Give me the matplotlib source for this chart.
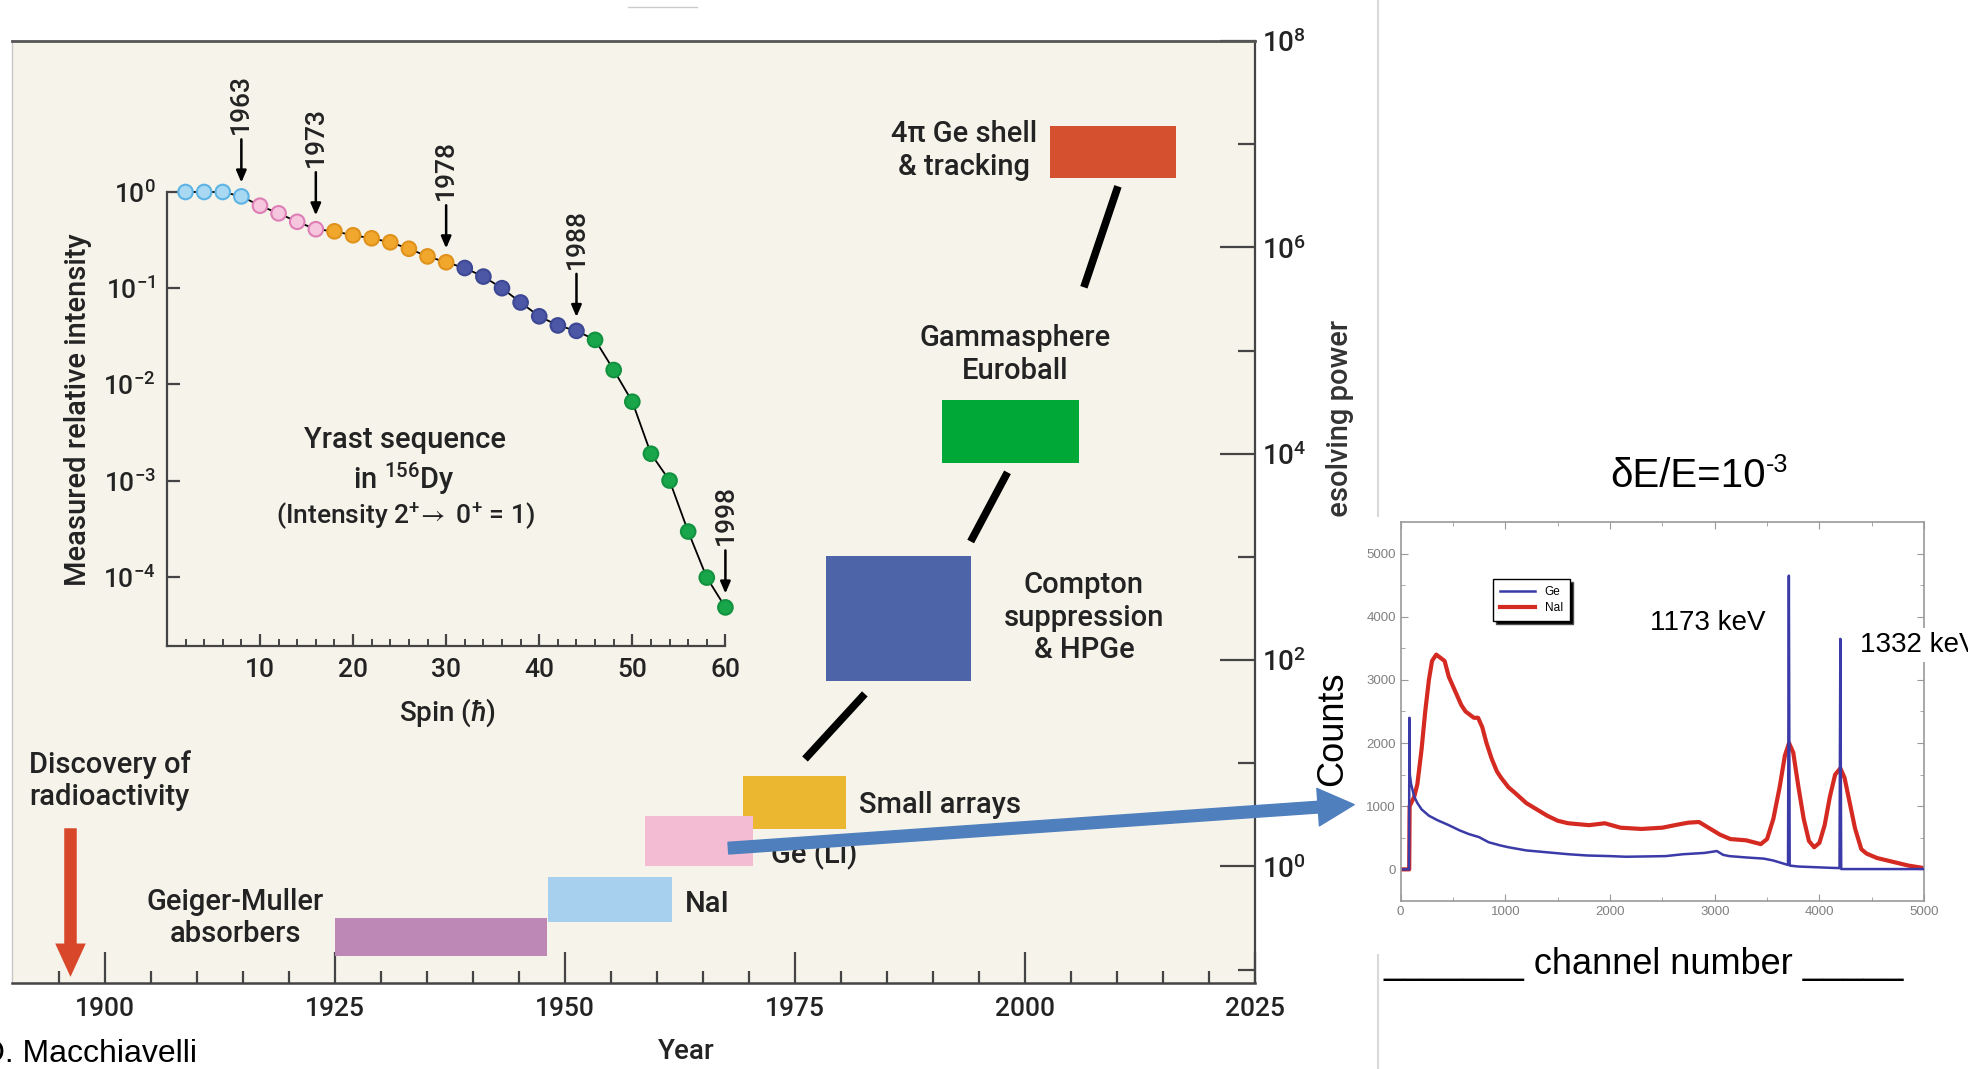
import matplotlib
matplotlib.use("Agg")
import matplotlib.pyplot as plt
from matplotlib.ticker import FixedLocator, NullLocator, NullFormatter, LogFormatterMathtext
from matplotlib.patches import Rectangle, FancyArrowPatch
from matplotlib.lines import Line2D

plt.rcParams['font.family'] = ['Roboto', 'DejaVu Sans']
plt.rcParams['font.weight'] = 'medium'
plt.rcParams['mathtext.fontset'] = 'custom'
plt.rcParams['mathtext.rm'] = 'Roboto'
plt.rcParams['mathtext.it'] = 'Roboto:italic'
plt.rcParams['mathtext.bf'] = 'Roboto:bold'
plt.rcParams['mathtext.fallback'] = 'stixsans'

# yrast sequence of 156Dy (inset)
spin = [2, 4, 6, 8, 10, 12, 14, 16, 18, 20, 22, 24, 26, 28, 30,
        32, 34, 36, 38, 40, 42, 44, 46, 48, 50, 52, 54, 56, 58, 60]
intensity = [1.0, 1.0, 1.0, 0.90, 0.72, 0.60, 0.49, 0.41, 0.39, 0.355, 0.33, 0.30, 0.257, 0.214, 0.186,
             0.162, 0.132, 0.10, 0.071, 0.051, 0.041, 0.036, 0.029, 0.0141, 0.0066, 0.0019, 0.0010,
             0.000295, 0.000098, 0.000048]
group_last_spin = [8, 16, 30, 44, 60]
group_face = ['#a9d9f2', '#f6c5de', '#f0a72c', '#4c58a6', '#19a64b']
group_edge = ['#5cb3e4', '#de7eb6', '#e0921c', '#3d4894', '#12923f']
arrow_spin = [8, 16, 30, 44, 60]
arrow_year = ['1963', '1973', '1978', '1988', '1998']

# detector generations: year span and resolving power span
det_name = ['Geiger-Muller', 'NaI', 'Small arrays', 'Ge(Li)', 'Compton', 'Gammasphere', '4pi shell']
det_start = [1925.0, 1948.2, 1969.4, 1958.7, 1978.4, 1991.0, 2002.7]
det_end = [1948.1, 1961.6, 1980.6, 1970.5, 1994.1, 2005.9, 2016.4]
det_low = [0.135, 0.288, 2.3, 1.0, 62, 8100, 4.7e6]
det_high = [0.316, 0.79, 7.6, 3.1, 1020, 33000, 1.5e7]
det_color = ['#be88b6', '#a6d0ee', '#ecb730', '#f4bcd3', '#4e64a8', '#00a838', '#d5502f']
link_year = [(1976.1, 1982.6), (1994.1, 1998.1), (2006.4, 2010.1)]
link_power = [(11.0, 47.0), (1410, 6600), (4.1e5, 3.9e6)]
discovery_year = 1896.3

# 60Co spectrum, Ge vs NaI
ge_ch = [25, 80, 84, 88, 100, 130, 160, 200, 270, 350, 460, 560, 650, 750, 840, 950, 1030, 1200, 1400,
         1600, 1780, 2000, 2150, 2350, 2530, 2700, 2900, 3020, 3080, 3140, 3290, 3470, 3560, 3640, 3700,
         3708, 3716, 3800, 3950, 4100, 4192, 4200, 4208, 4400, 4700, 5000]
ge_cnt = [0, 0, 2400, 1500, 1350, 1150, 1050, 950, 850, 780, 700, 620, 560, 510, 430, 380, 350, 300, 270,
          240, 220, 210, 200, 205, 210, 240, 260, 290, 230, 210, 190, 170, 140, 100, 70,
          4650, 60, 45, 35, 25, 20, 3650, 5, 5, 5, 5]
nai_ch = [25, 82, 86, 100, 130, 160, 200, 235, 270, 300, 340, 380, 420, 460, 500, 540, 580, 620, 660, 700,
          740, 780, 820, 870, 920, 960, 1030, 1100, 1200, 1300, 1400, 1500, 1600, 1800, 1950, 2100, 2300,
          2500, 2650, 2750, 2850, 2950, 3050, 3150, 3300, 3440, 3500, 3560, 3620, 3670, 3710, 3750, 3800,
          3850, 3900, 3950, 4000, 4050, 4100, 4150, 4200, 4240, 4290, 4340, 4400, 4450, 4550, 4700, 4850, 5000]
nai_cnt = [0, 0, 1000, 1050, 1150, 1350, 1900, 2500, 3000, 3300, 3400, 3350, 3300, 3050, 2900, 2750, 2600,
           2500, 2450, 2400, 2400, 2250, 2000, 1750, 1550, 1450, 1300, 1200, 1050, 950, 850, 770, 730, 700,
           730, 660, 640, 660, 710, 740, 750, 650, 550, 480, 460, 400, 480, 800, 1300, 1800, 2000, 1850,
           1300, 800, 450, 350, 420, 700, 1150, 1500, 1600, 1450, 1050, 650, 320, 250, 180, 120, 60, 20]

fig = plt.figure(figsize=(19.68, 10.69), dpi=100)
txt = '#232323'

# main chart
ax = fig.add_axes([0.00635, 0.0804, 0.6314, 0.8813])
ax.set_facecolor('#f5f3ea')
ax.set_xlim(1890, 2025)
ax.set_yscale('log')
ax.set_ylim(10 ** -1.13, 1e8)
ax.yaxis.tick_right()
ax.yaxis.set_major_locator(FixedLocator([1, 1e2, 1e4, 1e6, 1e8]))
ax.yaxis.set_minor_locator(FixedLocator([1e-1, 1e1, 1e3, 1e5, 1e7]))
ax.yaxis.set_major_formatter(LogFormatterMathtext())
ax.yaxis.set_minor_formatter(NullFormatter())
ax.xaxis.set_major_locator(FixedLocator(list(range(1900, 2026, 25))))
ax.xaxis.set_minor_locator(FixedLocator([y for y in range(1895, 2025, 5) if y % 25]))
ax.tick_params(axis='y', which='major', direction='in', length=25, width=1.6, color='#444',
               labelsize=20, labelcolor=txt, pad=5, right=True, left=False)
ax.tick_params(axis='y', which='minor', direction='in', length=12, width=1.6, color='#444', right=True, left=False)
ax.tick_params(axis='x', which='major', direction='in', length=22, width=1.6, color='#444', labelsize=19,
               labelcolor=txt, pad=10)
ax.tick_params(axis='x', which='minor', direction='in', length=9, width=1.6, color='#444')
ax.spines['top'].set_color('#555')
ax.spines['top'].set_linewidth(2)
ax.spines['left'].set_color('#c8c8c8')
ax.spines['left'].set_linewidth(1)
ax.spines['right'].set_color('#444')
ax.spines['right'].set_linewidth(1.6)
ax.spines['bottom'].set_color('#444')
ax.spines['bottom'].set_linewidth(1.8)

widths = [e - s for s, e in zip(det_start, det_end)]
heights = [h - l for l, h in zip(det_low, det_high)]
ax.bar(det_start, heights, width=widths, bottom=det_low, align='edge', color=det_color, zorder=2)
for yrs, pw in zip(link_year, link_power):
    ax.plot(yrs, pw, color='k', lw=5.5, solid_capstyle='butt', zorder=2)

ax.annotate('', xy=(discovery_year, 10 ** -1.07), xytext=(discovery_year, 10 ** 0.37),
            arrowprops=dict(arrowstyle='simple,head_length=1.2,head_width=1.1,tail_width=0.45',
                            mutation_scale=20, fc='#d9472b', ec='none', shrinkA=0, shrinkB=0))

fs = 21
ax.text(1891.8, 10 ** 0.83, 'Discovery of\nradioactivity', ha='left', va='center', fontsize=fs,
        linespacing=1.2, color=txt)
ax.text(1914.2, 10 ** -0.5, 'Geiger-Muller\nabsorbers', ha='center', va='center', fontsize=fs,
        linespacing=1.2, color=txt)
ax.text(1963.0, 10 ** -0.366, 'NaI', ha='left', va='center', fontsize=fs, color=txt)
ax.text(1972.4, 10 ** 0.11, 'Ge (Li)', ha='left', va='center', fontsize=fs, color=txt)
ax.text(1982.0, 10 ** 0.6, 'Small arrays', ha='left', va='center', fontsize=fs, color=txt)
ax.text(2006.4, 10 ** 2.41, 'Compton\nsuppression\n& HPGe', ha='center', va='center', fontsize=fs,
        linespacing=1.2, color=txt)
ax.text(1998.9, 10 ** 4.96, 'Gammasphere\nEuroball', ha='center', va='center', fontsize=fs,
        linespacing=1.2, color=txt)
ax.text(1993.4, 10 ** 6.94, '4π Ge shell\n& tracking', ha='center', va='center', fontsize=fs,
        linespacing=1.2, color=txt)

# inset
ax_in = fig.add_axes([0.0848, 0.3957, 0.2838, 0.4247])
ax_in.patch.set_alpha(0)
ax_in.spines['top'].set_visible(False)
ax_in.spines['right'].set_visible(False)
for s in ['left', 'bottom']:
    ax_in.spines[s].set_color('#444')
    ax_in.spines[s].set_linewidth(1.6)
ax_in.set_yscale('log')
ax_in.set_ylim(10 ** -4.72, 1)
ax_in.set_xlim(0, 60)
ax_in.yaxis.set_major_locator(FixedLocator([1e-4, 1e-3, 1e-2, 1e-1, 1]))
ax_in.yaxis.set_minor_locator(NullLocator())
ax_in.yaxis.set_major_formatter(LogFormatterMathtext())
ax_in.xaxis.set_major_locator(FixedLocator([10, 20, 30, 40, 50, 60]))
ax_in.xaxis.set_minor_locator(FixedLocator([s for s in range(2, 60, 2) if s % 10]))
ax_in.tick_params(axis='y', direction='in', length=9, width=1.6, color='#444', labelsize=19,
                  labelcolor=txt, pad=8)
ax_in.tick_params(axis='x', which='major', direction='in', length=9, width=1.6, color='#444', labelsize=19,
                  labelcolor=txt, pad=9)
ax_in.tick_params(axis='x', which='minor', direction='in', length=5, width=1.4, color='#444')

face, edge = [], []
for s in spin:
    g = next(i for i, last in enumerate(group_last_spin) if s <= last)
    face.append(group_face[g])
    edge.append(group_edge[g])
ax_in.plot(spin, intensity, color='k', lw=1.3, zorder=2, clip_on=False)
ax_in.scatter(spin, intensity, s=110, c=face, edgecolors=edge, linewidths=1.5, zorder=3, clip_on=False)

for s, yr in zip(arrow_spin, arrow_year):
    v = intensity[spin.index(s)]
    ax_in.annotate('', xy=(s, v), xytext=(0, 57), textcoords='offset pixels',
                   arrowprops=dict(arrowstyle='-|>,head_length=0.7,head_width=0.3', color='k', lw=1.8,
                                   shrinkA=0, shrinkB=10), annotation_clip=False)
    ax_in.annotate(yr, xy=(s, v), xytext=(0, 62), textcoords='offset pixels', rotation=90,
                   ha='center', va='bottom', fontsize=19, color=txt, annotation_clip=False)

ax_in.text(0.427, 0.453, 'Yrast sequence', transform=ax_in.transAxes, ha='center', va='center',
           fontsize=fs, color=txt)
ax_in.text(0.424, 0.368, 'in $^{156}$Dy', transform=ax_in.transAxes, ha='center', va='center',
           fontsize=fs, color=txt)
ax_in.text(0.427, 0.287, '(Intensity 2$^{+}\\!\\rightarrow$ 0$^{+}$ = 1)', transform=ax_in.transAxes,
           ha='center', va='center', fontsize=fs - 2, color=txt)
ax_in.text(0.503, -0.146, 'Spin ($\\hbar$)', transform=ax_in.transAxes, ha='center', va='center',
           fontsize=fs - 1, color=txt)
ax_in.text(-0.1595, 0.52, 'Measured relative intensity', transform=ax_in.transAxes, rotation=90,
           ha='center', va='center', fontsize=fs, color=txt)

fig.text(0.3487, 0.016, 'Year', ha='center', va='center', fontsize=20, color=txt)
fig.text(0.681, 0.6005, 'Resolving power', rotation=90, ha='center', va='center', fontsize=fs,
         color='#333', zorder=1)
fig.text(-0.0102, 0.0065, 'O. Macchiavelli', ha='left', va='baseline', fontsize=23,
         family='Liberation Sans', fontweight='normal')

# slide pieces on the right
fig.add_artist(Line2D([0.7002, 0.7002], [0, 1], transform=fig.transFigure, color='#d9d9d9', lw=1.5, zorder=0.5))
fig.add_artist(Line2D([0.319, 0.354], [0.993, 0.993], transform=fig.transFigure, color='#cccccc', lw=1, zorder=0.5))
fig.add_artist(Rectangle((0.6696, 0.1076), 0.3304, 0.4088, transform=fig.transFigure, fc='white', ec='none', zorder=2))

ax_sp = fig.add_axes([0.7117, 0.1572, 0.266, 0.3545])
ax_sp.set_zorder(3)
ax_sp.plot(nai_ch, nai_cnt, color='#d42a22', lw=3, label='NaI', zorder=2)
ax_sp.plot(ge_ch, ge_cnt, color='#3a3aa8', lw=1.8, label='Ge', zorder=3)
ax_sp.set_xlim(0, 5000)
ax_sp.set_ylim(-500, 5500)
ax_sp.xaxis.set_major_locator(FixedLocator([0, 1000, 2000, 3000, 4000, 5000]))
ax_sp.xaxis.set_minor_locator(FixedLocator([500, 1500, 2500, 3500, 4500]))
ax_sp.yaxis.set_major_locator(FixedLocator([0, 1000, 2000, 3000, 4000, 5000]))
ax_sp.yaxis.set_minor_locator(FixedLocator([500, 1500, 2500, 3500, 4500]))
ax_sp.tick_params(which='both', direction='in', top=True, right=True, color='#999', labelcolor='#808080',
                  labelsize=9.5)
for lab in ax_sp.get_xticklabels() + ax_sp.get_yticklabels():
    lab.set_family('Liberation Sans')
    lab.set_fontweight('normal')
ax_sp.tick_params(which='major', length=5)
ax_sp.tick_params(which='minor', length=3)
for s in ax_sp.spines.values():
    s.set_color('#999')
    s.set_linewidth(1.2)
h, l = ax_sp.get_legend_handles_labels()
ax_sp.legend(h[::-1], l[::-1], loc='upper left', bbox_to_anchor=(0.165, 0.865),
             fancybox=False, edgecolor='k', shadow={'fc': 'black', 'alpha': 1}, handlelength=3,
             borderpad=0.6, labelspacing=0.3, framealpha=1,
             prop={'family': 'Liberation Sans', 'size': 8.5, 'weight': 'normal'})

ax_sp.text(2386, 3900, '1173 keV', ha='left', va='center', fontsize=20, family='Liberation Sans',
           fontweight='normal', clip_on=False)
ax_sp.text(4389, 3550, '1332 keV', ha='left', va='center', fontsize=20, family='Liberation Sans',
           fontweight='normal', clip_on=False, bbox=dict(fc='white', ec='none', pad=3), zorder=5)

fig.text(0.677, 0.318, 'Counts', rotation=90, ha='center', va='center', fontsize=26,
         family='Liberation Sans', fontweight='normal', zorder=7)
fig.text(0.8973, 0.5444, 'δE/E=10', ha='right', va='baseline', fontsize=29, family='Liberation Sans',
         fontweight='normal')
fig.text(0.8973, 0.5585, '-3', ha='left', va='baseline', fontsize=18, family='Liberation Sans',
         fontweight='normal')
fig.text(0.835, 0.0889, '_______ channel number _____', ha='center', va='baseline', fontsize=26,
         family='Liberation Sans', fontweight='normal')

fig.add_artist(FancyArrowPatch((0.3687, 0.2064), (0.6895, 0.2475), transform=fig.transFigure,
                               arrowstyle='simple,head_length=1.3,head_width=1.35,tail_width=0.42',
                               mutation_scale=20, color='#4f80bd', zorder=6))

fig.savefig('out.png', dpi=100)
